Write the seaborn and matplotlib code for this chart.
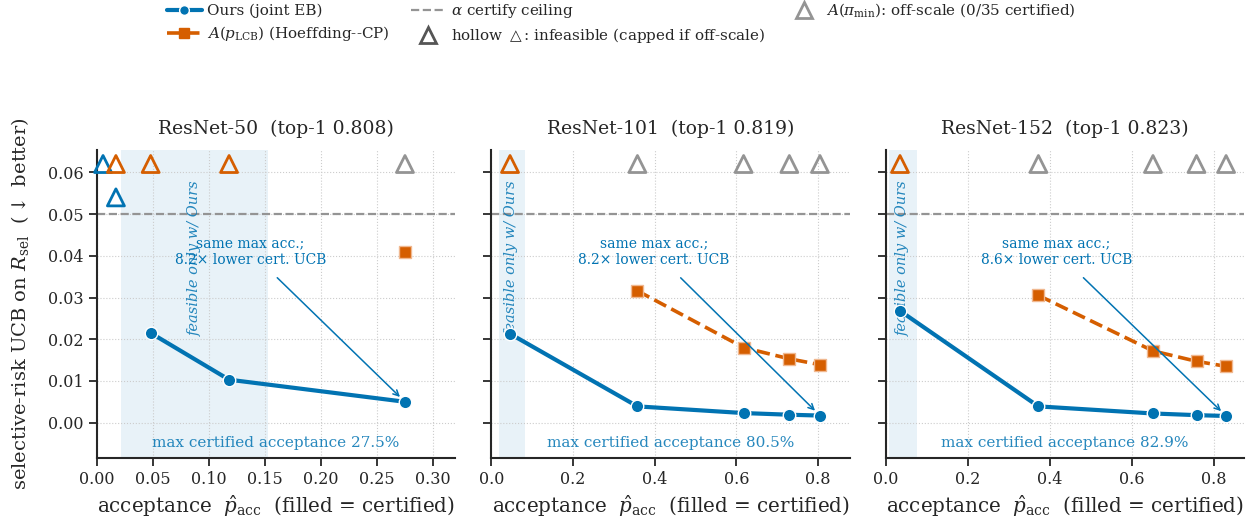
import numpy as np
import pandas as pd
import matplotlib
matplotlib.use("Agg")
import matplotlib.pyplot as plt
import seaborn as sns
from matplotlib.lines import Line2D

BLUE, ORANGE, GRAY = '#0173b2', '#d55e00', '#949494'
ALPHA = 0.05      # certify ceiling
CAP = 0.062       # where off-scale UCBs are drawn

titles = ["ResNet-50  (top-1 0.808)", "ResNet-101  (top-1 0.819)", "ResNet-152  (top-1 0.823)"]

# Ours (joint EB), certified operating points
ours_acc = [[0.048, 0.118, 0.275],
            [0.046, 0.358, 0.618, 0.730, 0.805],
            [0.035, 0.372, 0.651, 0.757, 0.829]]
ours_ucb = [[0.0215, 0.0103, 0.0050],
            [0.0213, 0.0039, 0.0023, 0.0019, 0.0017],
            [0.0268, 0.0039, 0.0022, 0.0018, 0.0016]]

# A(p_LCB) (Hoeffding--CP), certified operating points
base_acc = [[0.275],
            [0.358, 0.618, 0.730, 0.805],
            [0.372, 0.651, 0.757, 0.829]]
base_ucb = [[0.041],
            [0.0316, 0.0180, 0.0153, 0.0139],
            [0.0305, 0.0172, 0.0147, 0.0135]]

# infeasible points (inf = off-scale, drawn capped)
ours_inf_acc = [[0.0055, 0.017], [], []]
ours_inf_ucb = [[np.inf, 0.054], [], []]
base_inf_acc = [[0.017, 0.048, 0.118], [0.046], [0.035]]
pimin_acc = [[0.275],
             [0.358, 0.618, 0.730, 0.805],
             [0.372, 0.651, 0.757, 0.829]]

# region where only Ours certifies
only_ours = [(0.0214, 0.153), (0.018, 0.083), (0.0085, 0.076)]
ratio_txt = ["8.2", "8.2", "8.6"]
max_acc_txt = ["27.5%", "80.5%", "82.9%"]
note_x = [0.137, 0.399, 0.416]
xmax = [0.32, 0.878, 0.873]

sns.set_theme(style="ticks")
plt.rcParams.update({
    "font.family": ["DejaVu Serif"],
    "mathtext.fontset": "dejavuserif",
    "axes.linewidth": 1.5,
    "xtick.major.width": 1.3, "ytick.major.width": 1.3,
    "xtick.major.size": 6, "ytick.major.size": 6,
    "xtick.labelsize": 11.5, "ytick.labelsize": 11.5,
})

fig, axes = plt.subplots(1, 3, figsize=(12.58, 5.29), dpi=100, sharey=True)
fig.subplots_adjust(left=0.077, right=0.989, top=0.716, bottom=0.134, wspace=0.10)

for i, ax in enumerate(axes):
    lo, hi = only_ours[i]
    ax.axvspan(lo, hi, color=BLUE, alpha=0.09, lw=0, zorder=0)
    ax.axhline(ALPHA, color=GRAY, ls='--', lw=1.6, zorder=1)

    ours = pd.DataFrame({"acc": ours_acc[i], "ucb": ours_ucb[i]})
    sns.lineplot(data=ours, x="acc", y="ucb", ax=ax, color=BLUE, lw=3, marker='o',
                 markersize=9, markeredgecolor='white', markeredgewidth=1, zorder=4)
    base = pd.DataFrame({"acc": base_acc[i], "ucb": base_ucb[i]})
    sns.lineplot(data=base, x="acc", y="ucb", ax=ax, color=ORANGE, lw=2.6, ls='--',
                 marker='s', markersize=9, markeredgecolor='#f0b890', markeredgewidth=1,
                 zorder=3)

    hollow = [(ours_inf_acc[i], np.minimum(ours_inf_ucb[i], CAP), BLUE),
              (base_inf_acc[i], [CAP] * len(base_inf_acc[i]), ORANGE),
              (pimin_acc[i], [CAP] * len(pimin_acc[i]), GRAY)]
    for xs, ys, c in hollow:
        if len(xs):
            sns.scatterplot(x=list(xs), y=list(ys), ax=ax, marker='^', s=150,
                            facecolor='none', edgecolor=c, linewidth=2, zorder=5,
                            clip_on=False)

    ax.text((lo + hi) / 2, 0.0395, "feasible only w/ Ours", rotation=90, style='italic',
            color=BLUE, alpha=0.85, fontsize=10.5, ha='center', va='center', zorder=2)
    ax.annotate(f"same max acc.;\n{ratio_txt[i]}× lower cert. UCB",
                xy=(ours_acc[i][-1], ours_ucb[i][-1]), xytext=(note_x[i], 0.041),
                ha='center', va='center', color=BLUE, fontsize=10,
                arrowprops=dict(arrowstyle='->', color=BLUE, lw=1.1, shrinkA=8, shrinkB=5),
                zorder=6)
    ax.text(0.5, 0.05, f"max certified acceptance {max_acc_txt[i]}", transform=ax.transAxes,
            ha='center', va='center', color=BLUE, alpha=0.85, fontsize=11)

    ax.set_title(titles[i], fontsize=13.5, pad=12)
    ax.set_xlim(0, xmax[i])
    ax.set_ylim(-0.0085, 0.0653)
    ax.grid(True, ls=':', lw=0.8, color='#cccccc')
    ax.set_xlabel(r"acceptance  $\hat{p}_{\rm acc}$  (filled = certified)", fontsize=14.3)
    ax.set_ylabel("")
    sns.despine(ax=ax)

axes[0].set_xticks(np.arange(0, 0.31, 0.05))
for ax in axes[1:]:
    ax.set_xticks(np.arange(0, 0.81, 0.2))
axes[0].set_yticks(np.arange(0, 0.061, 0.01))
axes[0].set_ylabel(r"selective-risk UCB on $R_{\rm sel}$  ($\downarrow$ better)",
                   fontsize=14, labelpad=12)

handles = [
    Line2D([], [], color=BLUE, lw=3, marker='o', markersize=7, markeredgecolor='white'),
    Line2D([], [], color=ORANGE, lw=2.6, ls='--', marker='s', markersize=7),
    Line2D([], [], color=GRAY, lw=1.6, ls='--'),
    Line2D([], [], ls='none', marker='^', markersize=12, markerfacecolor='none',
           markeredgecolor='#555555', markeredgewidth=2),
    Line2D([], [], ls='none', marker='^', markersize=12, markerfacecolor='none',
           markeredgecolor=GRAY, markeredgewidth=2),
]
labels = ["Ours (joint EB)", r"$A(p_{\rm LCB})$ (Hoeffding--CP)", r"$\alpha$ certify ceiling",
          r"hollow $\triangle$: infeasible (capped if off-scale)",
          r"$A(\pi_{\min})$: off-scale (0/35 certified)"]
fig.legend(handles, labels, loc='upper center', bbox_to_anchor=(0.494, 1.023), ncol=3,
           frameon=False, fontsize=10.9, handlelength=2.3, handletextpad=0.35,
           columnspacing=1.4, labelspacing=0.4)

fig.savefig("out.png", dpi=100)
